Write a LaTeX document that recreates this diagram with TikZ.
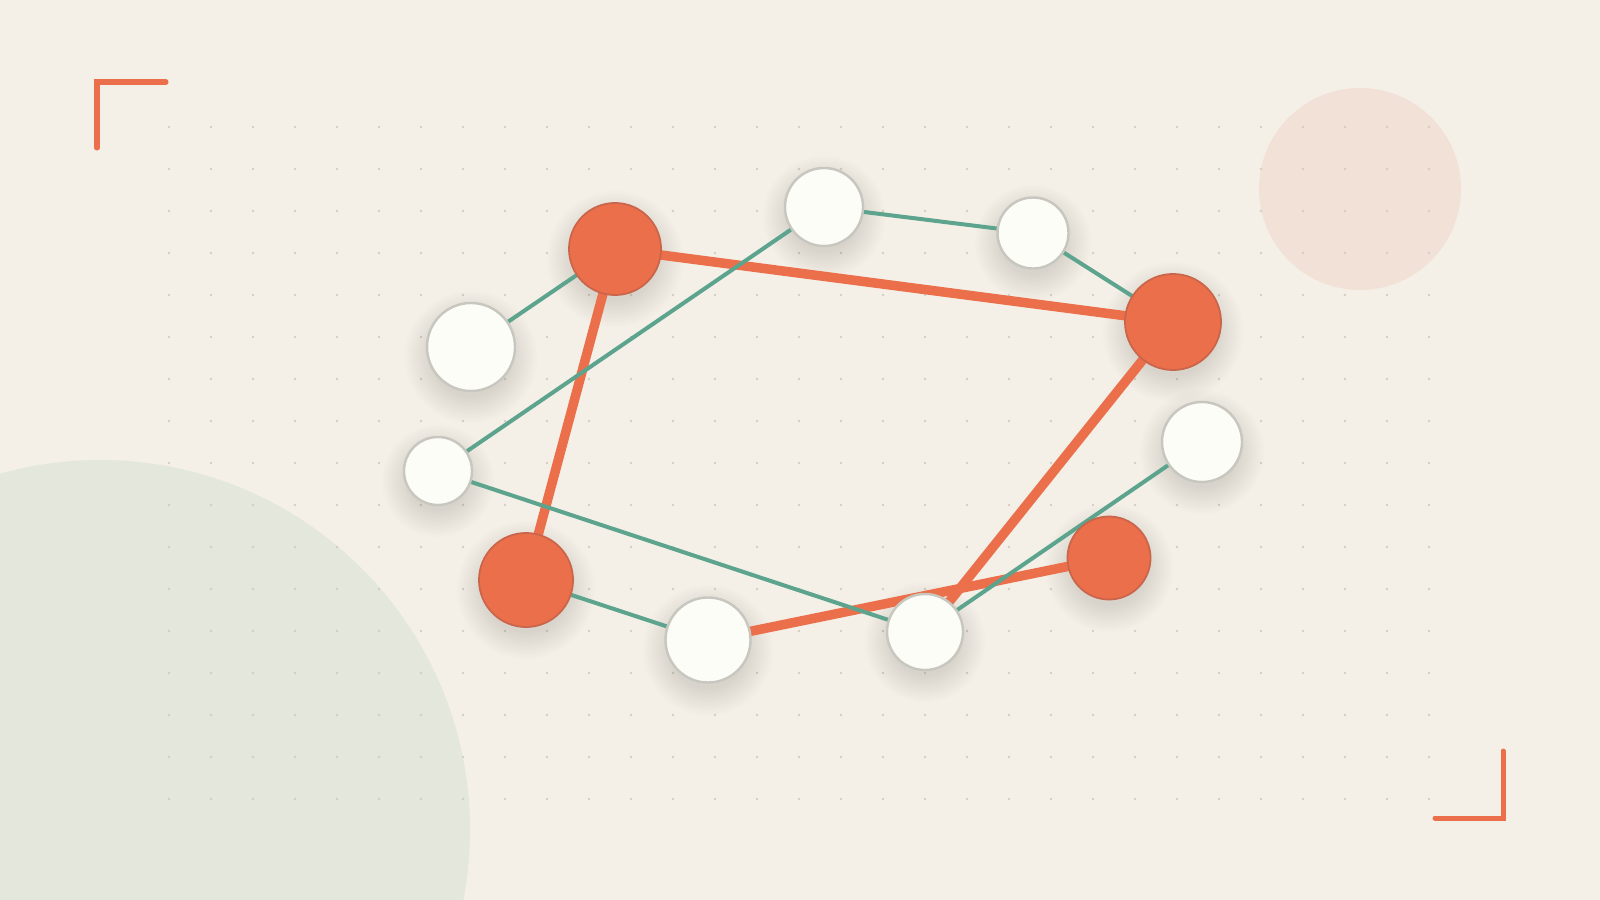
\documentclass[tikz,border=0pt]{standalone}

\definecolor{paper}{HTML}{F5F0E7}
\definecolor{sage}{HTML}{E3E7DC}
\definecolor{blush}{HTML}{F2E1D6}
\definecolor{coral}{HTML}{EB6F4A}
\definecolor{coraledge}{HTML}{C9654B}
\definecolor{linkgreen}{HTML}{5CA48D}
\definecolor{chalk}{HTML}{FDFDF8}
\definecolor{rim}{HTML}{C8C7BF}
\definecolor{grain}{HTML}{D3CEC5}
\definecolor{umbra}{HTML}{6B6A55}

\pgfdeclarelayer{back}
\pgfdeclarelayer{links}
\pgfsetlayers{back,links,main}

\begin{document}
\begin{tikzpicture}[x=0.01cm, y=-0.01cm,
        hub/.style={circle, inner sep=0pt, minimum size=#1, fill=coral, draw=coraledge, line width=0.5pt},
        leaf/.style={circle, inner sep=0pt, minimum size=#1, fill=chalk, draw=rim, line width=0.7pt},
        haze/.style={fill=umbra, fill opacity=0.011},
        strong/.style={coral, line width=0.095cm},
        weak/.style={linkgreen, line width=0.04cm},
        bracket/.style={coral, line width=0.05cm, line cap=round}]

        \useasboundingbox (0,0) rectangle (1600,900);

        \begin{pgfonlayer}{back}
        \begin{scope}
        \clip (0,0) rectangle (1600,900);
        \fill[paper] (0,0) rectangle (1600,900);
        \fill[sage] (100,830) circle (370);
        \fill[blush] (1360,189) circle (101);
        \foreach \i in {0,...,30}
            \foreach \j in {0,...,16}
                \fill[grain] (169+42*\i, 127+42*\j) circle (1.3);
        \end{scope}

        \draw[bracket] (97,148) -- (97,82) -- (166,82);
        \draw[bracket] (1435,818) -- (1503,818) -- (1503,751);
        \end{pgfonlayer}

        \node[hub=0.92cm] (o1) at (615,249) {};
        \node[hub=0.96cm] (o2) at (1173,322) {};
        \node[hub=0.94cm] (o3) at (526,580) {};
        \node[hub=0.83cm] (o4) at (1109,558) {};

        \node[leaf=0.78cm] (w1) at (824,207) {};
        \node[leaf=0.71cm] (w2) at (1033,233) {};
        \node[leaf=0.88cm] (w3) at (471,347) {};
        \node[leaf=0.68cm] (w4) at (438,471) {};
        \node[leaf=0.80cm] (w5) at (1202,442) {};
        \node[leaf=0.85cm] (w6) at (708,640) {};
        \node[leaf=0.76cm] (w7) at (925,632) {};

        \begin{pgfonlayer}{back}
        \foreach \n/\r in {o1/46, o2/48, o3/47, o4/42, w1/39, w2/36, w3/44, w4/34, w5/40, w6/43, w7/38}
            \foreach \k in {0,...,13}
                \fill[haze] ([yshift=-0.1cm]\n.center) circle (\r-4+2*\k);
        \end{pgfonlayer}

        \begin{pgfonlayer}{links}
        \draw[strong] (o1.center) -- (o2.center);
        \draw[strong] (o1.center) -- (o3.center);
        \draw[strong] (o2.center) -- (w7.center);
        \draw[strong] (w6.center) -- (o4.center);

        \draw[weak] (w3.center) -- (o1.center);
        \draw[weak] (w1.center) -- (w4.center);
        \draw[weak] (w1.center) -- (w2.center);
        \draw[weak] (w2.center) -- (o2.center);
        \draw[weak] (w4.center) -- (w7.center);
        \draw[weak] (o3.center) -- (w6.center);
        \draw[weak] (w7.center) -- (w5.center);
        \end{pgfonlayer}

    \end{tikzpicture}
\end{document}
